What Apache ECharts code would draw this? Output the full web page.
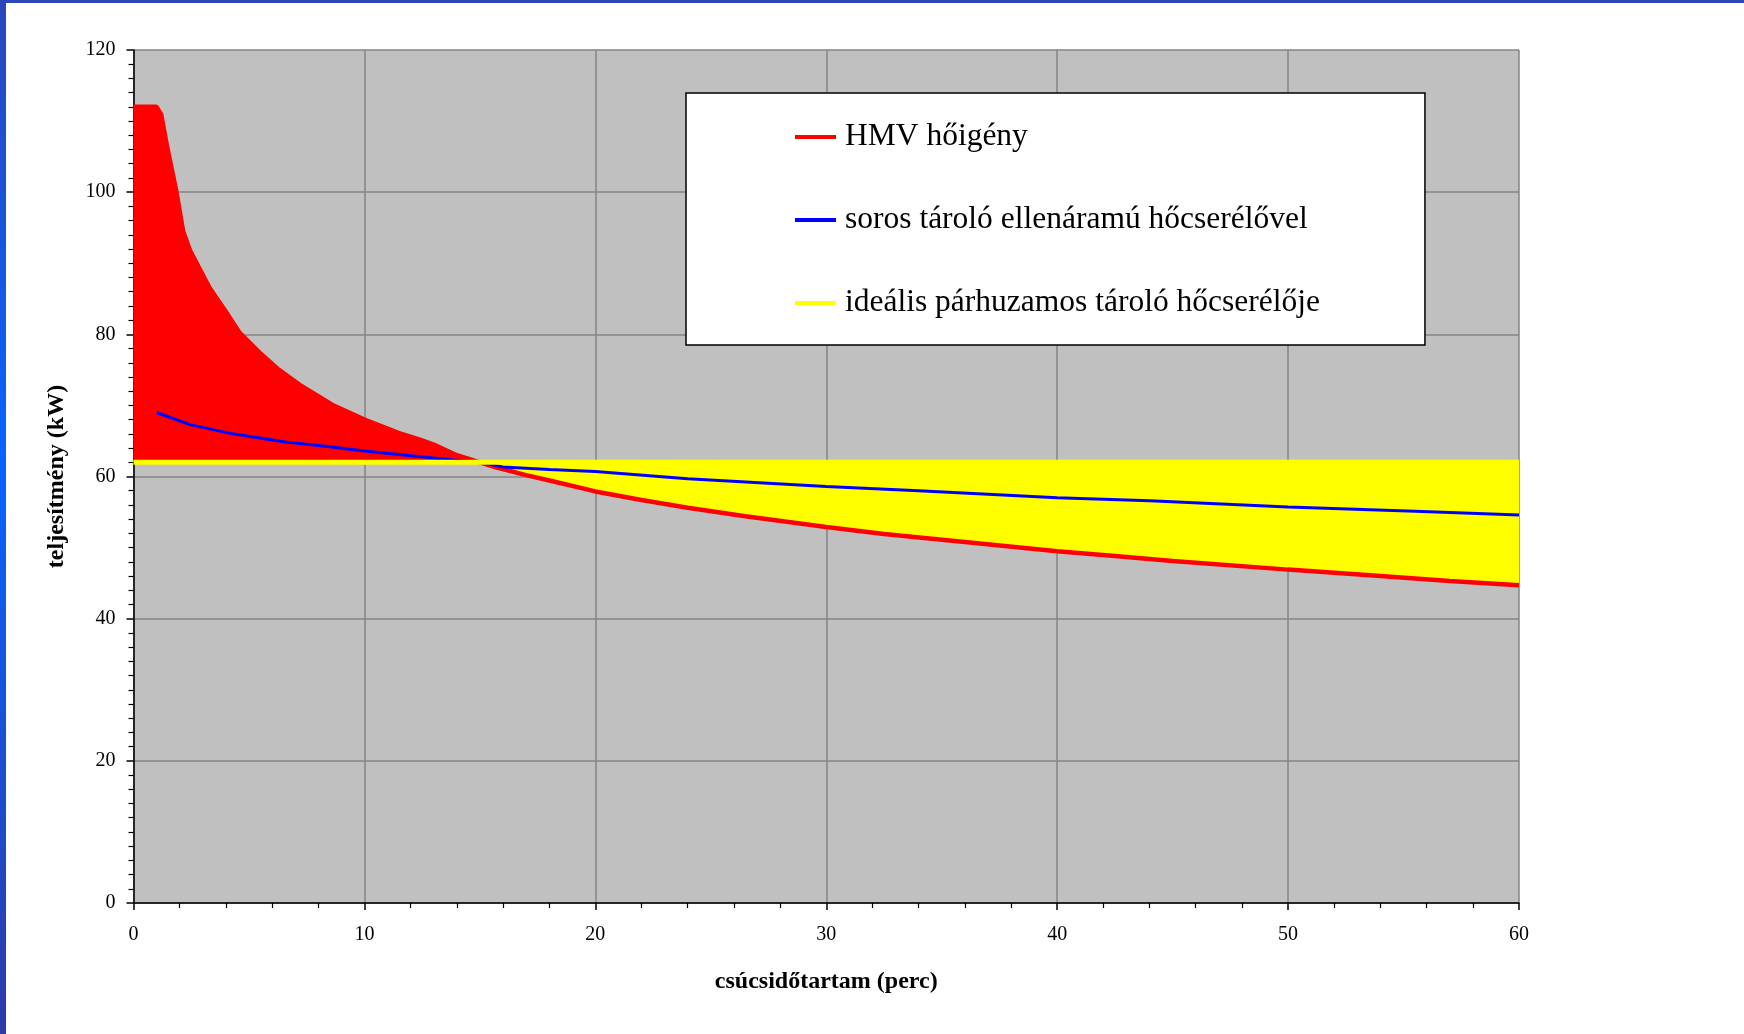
<!DOCTYPE html>
<html>
<head>
<meta charset="utf-8">
<script src="https://cdn.jsdelivr.net/npm/echarts@6/dist/echarts.min.js"></script>
<style>
  html, body { margin: 0; padding: 0; background: #ffffff; }
  #chart { width: 1744px; height: 1034px; }
</style>
</head>
<body>
<div id="chart"></div>
<script>
// ---- data ----
const seriesNames = ['HMV hőigény', 'soros tároló ellenáramú hőcserélővel', 'ideális párhuzamos tároló hőcserélője'];

// HMV hőigény (kW) vs csúcsidőtartam (perc)
const demandX = [0, 1.0, 1.2, 1.45, 1.85, 2.15, 2.45, 2.8, 3.3, 4.1, 4.6, 5.5, 6.3, 7.2, 8.6, 10, 11.5, 12.4, 13, 14, 15, 15.7, 17, 18.2, 20, 22, 24, 26.5, 30, 32.5, 36, 40, 42.5, 45, 50, 54, 57, 60];
const demandY = [112, 112, 110.9, 106.5, 100.2, 94.5, 91.8, 89.6, 86.5, 82.7, 80.2, 77.3, 75.0, 72.9, 70.1, 68.0, 66.1, 65.2, 64.5, 63.0, 62.0, 61.3, 60.2, 59.3, 57.9, 56.7, 55.6, 54.4, 52.9, 51.9, 50.8, 49.5, 48.8, 48.1, 46.9, 46.0, 45.3, 44.7];

// soros tároló ellenáramú hőcserélővel
const serialX = [1.0, 2.45, 4.3, 6.5, 8.5, 10, 13, 14, 15, 16, 18, 20, 24, 30, 34, 40, 44, 50, 55.5, 60];
const serialY = [69.0, 67.3, 66.0, 64.9, 64.2, 63.6, 62.6, 62.3, 62.0, 61.35, 61.0, 60.7, 59.7, 58.6, 58.0, 57.0, 56.6, 55.7, 55.1, 54.6];

// ideális párhuzamos tároló hőcserélője
const idealX = [0, 60];
const idealY = [62, 62];

// crossing point of demand and ideal level (read)
const crossX = 15;

// axis ticks
const xTicks = { min: 0, max: 60, interval: 10 };
const yTicks = { min: 0, max: 120, interval: 20 };

// ---- build ----
const pairs = (xs, ys) => xs.map((x, i) => [x, ys[i]]);
const demand = pairs(demandX, demandY);
const demandAbove = demand.filter(p => p[0] <= crossX);
const demandBelow = demand.filter(p => p[0] >= crossX);
const idealLevel = idealY[0];

const FONT = "'Liberation Serif', 'Times New Roman', serif";

const chart = echarts.init(document.getElementById('chart'), null, { renderer: 'canvas' });
chart.setOption({
  animation: false,
  backgroundColor: '#ffffff',
  textStyle: { fontFamily: FONT, color: '#000' },
  graphic: [
    { type: 'rect', left: 0, top: 0, shape: { width: 6, height: 1034 }, silent: true,
      style: { fill: new echarts.graphic.LinearGradient(0, 0, 0, 1, [
        { offset: 0, color: '#2b46bc' }, { offset: 0.45, color: '#0864ff' }, { offset: 1, color: '#2e3aa8' }]) } },
    { type: 'rect', left: 0, top: 0, shape: { width: 1744, height: 3 }, silent: true, style: { fill: '#2c46b8' } }
  ],
  grid: {
    left: 133.5, right: 225, top: 50, bottom: 131,
    show: true, backgroundColor: '#c0c0c0', borderWidth: 0
  },
  legend: {
    orient: 'vertical',
    left: 686, top: 93,
    data: seriesNames,
    icon: 'rect',
    itemWidth: 41, itemHeight: 4,
    itemGap: 51,
    backgroundColor: '#ffffff',
    borderColor: '#000000', borderWidth: 1.5,
    padding: [28, 105, 26, 109],
    textStyle: { fontFamily: FONT, fontSize: 31.5, color: '#000', padding: [0, 0, 0, 4] },
    selectedMode: false
  },
  xAxis: {
    type: 'value', min: xTicks.min, max: xTicks.max, interval: xTicks.interval,
    name: 'csúcsidőtartam (perc)', nameLocation: 'middle', nameGap: 67,
    nameTextStyle: { fontFamily: FONT, fontSize: 24, fontWeight: 'bold', color: '#000' },
    axisLine: { show: true, onZero: false, lineStyle: { color: '#000', width: 1.5 } },
    axisTick: { show: true, length: 7, lineStyle: { color: '#000', width: 1.5 } },
    minorTick: { show: true, splitNumber: 5, length: 5, lineStyle: { color: '#000', width: 1.2 } },
    axisLabel: { fontFamily: FONT, fontSize: 20, color: '#000', margin: 22 },
    splitLine: { show: true, lineStyle: { color: '#858585', width: 1.5 } }
  },
  yAxis: {
    type: 'value', min: yTicks.min, max: yTicks.max, interval: yTicks.interval,
    name: 'teljesítmény (kW)', nameLocation: 'middle', nameGap: 65, nameRotate: 90,
    nameTextStyle: { fontFamily: FONT, fontSize: 24, fontWeight: 'bold', color: '#000' },
    axisLine: { show: true, onZero: false, lineStyle: { color: '#000', width: 1.5 } },
    axisTick: { show: true, length: 7, lineStyle: { color: '#000', width: 1.5 } },
    minorTick: { show: true, splitNumber: 10, length: 5, lineStyle: { color: '#000', width: 1.2 } },
    axisLabel: { fontFamily: FONT, fontSize: 20, color: '#000', margin: 18 },
    splitLine: { show: true, lineStyle: { color: '#858585', width: 1.5 } }
  },
  series: [
    { name: 'demandAboveFill', type: 'line', data: demandAbove, showSymbol: false, symbol: 'none',
      lineStyle: { width: 0 }, itemStyle: { color: '#ff0000' },
      areaStyle: { color: '#ff0000', opacity: 1, origin: idealLevel }, z: 2, silent: true },
    { name: 'demandBelowFill', type: 'line', data: demandBelow, showSymbol: false, symbol: 'none',
      lineStyle: { width: 0 }, itemStyle: { color: '#ffff00' },
      areaStyle: { color: '#ffff00', opacity: 1, origin: idealLevel }, z: 2, silent: true },
    { name: seriesNames[0], type: 'line', data: demand, showSymbol: false, symbol: 'none',
      color: '#ff0000', lineStyle: { color: '#ff0000', width: 4.5 }, z: 3 },
    { name: seriesNames[1], type: 'line', data: pairs(serialX, serialY), showSymbol: false, symbol: 'none',
      color: '#0000ff', lineStyle: { color: '#0000ff', width: 3 }, z: 4 },
    { name: seriesNames[2], type: 'line', data: pairs(idealX, idealY), showSymbol: false, symbol: 'none',
      color: '#ffff00', lineStyle: { color: '#ffff00', width: 5 }, z: 5 }
  ]
});
</script>
</body>
</html>
